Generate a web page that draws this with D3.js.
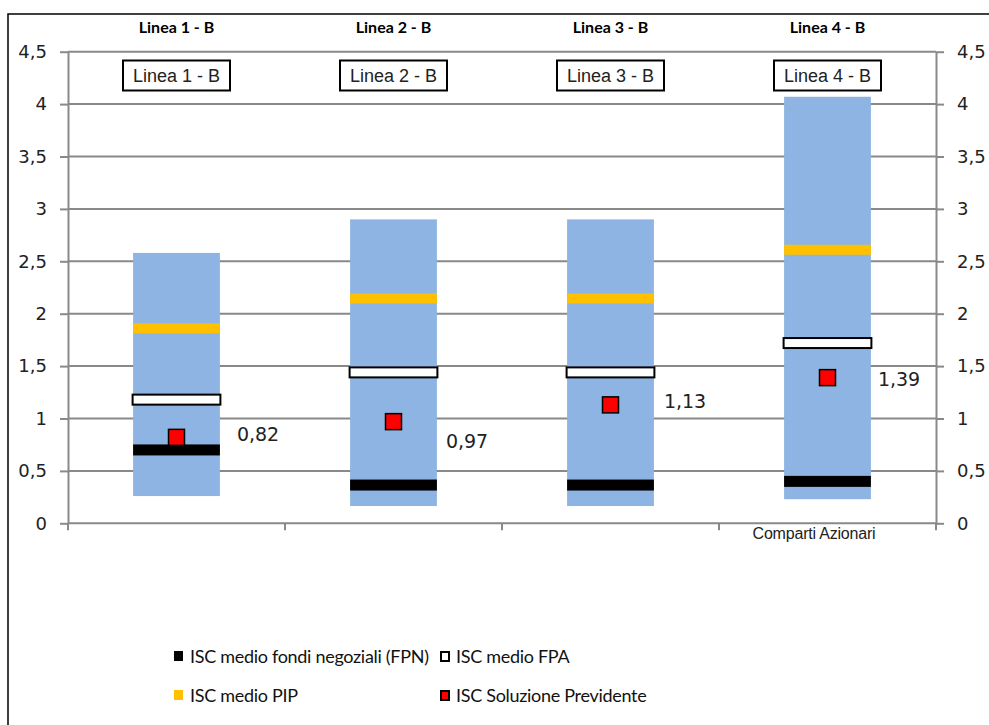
<!DOCTYPE html>
<html>
<head>
<meta charset="utf-8">
<script src="https://cdn.jsdelivr.net/npm/d3@7"></script>
<style>
  body { margin: 0; background: #fff; }
  svg { display: block; }
</style>
</head>
<body>
<div class="graph"></div>
<script>
// values
var categories = ["Linea 1 - B", "Linea 2 - B", "Linea 3 - B", "Linea 4 - B"];
var rangeMin = [0.26, 0.165, 0.165, 0.23];
var rangeMax = [2.58, 2.90, 2.90, 4.07];
var iscPip = [1.86, 2.145, 2.145, 2.61];
var iscFpa = [1.18, 1.44, 1.44, 1.72];
var iscFpn = [0.70, 0.365, 0.365, 0.40];
var iscPrevidente = [0.82, 0.97, 1.13, 1.39];
var yTicks = [0, 0.5, 1, 1.5, 2, 2.5, 3, 3.5, 4, 4.5];

// manual nudges of the value labels, as in the original
var labelDx = [17, 9, 10, 7];
var labelDy = [-3, 20, -4, 2];

var w = 989;
var h = 725;
var grey = "#898989";
var comma = function(d) { return String(d).replace(".", ","); };

var svg = d3.select(".graph").append("svg")
            .attr("width", w)
            .attr("height", h);

// outer frame
svg.append("rect")
  .attr("x", 8).attr("y", 14)
  .attr("width", w + 20).attr("height", h + 20)
  .attr("fill", "none").attr("stroke", "#000").attr("stroke-width", 1.5);

var x = d3.scaleBand().domain(categories).range([68, 936]);
var y = d3.scaleLinear().domain([0, 4.5]).range([523.3, 51.7]);
var barW = x.bandwidth() * 0.4;
var cx = function(i) { return x(categories[i]) + x.bandwidth() / 2; };

// gridlines
svg.append("g").selectAll("line")
  .data(yTicks.slice(1))
  .enter().append("line")
    .attr("x1", 68).attr("x2", 936)
    .attr("y1", function(d) { return y(d); })
    .attr("y2", function(d) { return y(d); })
    .attr("stroke", grey).attr("stroke-width", 2);

// min-max range bars
svg.append("g").selectAll("rect")
  .data(categories)
  .enter().append("rect")
    .attr("x", function(d, i) { return cx(i) - barW / 2; })
    .attr("y", function(d, i) { return y(rangeMax[i]); })
    .attr("width", barW)
    .attr("height", function(d, i) { return y(rangeMin[i]) - y(rangeMax[i]); })
    .attr("fill", "#8db4e2");

function band(values, fill, stroke, thick, extra) {
  svg.append("g").selectAll("rect")
    .data(values)
    .enter().append("rect")
      .attr("x", function(d, i) { return cx(i) - barW / 2 - extra; })
      .attr("y", function(d) { return y(d) - thick / 2; })
      .attr("width", barW + extra * 2)
      .attr("height", thick)
      .attr("fill", fill)
      .attr("stroke", stroke)
      .attr("stroke-width", stroke == "none" ? 0 : 2);
}
band(iscPip, "#ffc000", "none", 10, 0);
band(iscFpa, "#fff", "#000", 10, 0.5);
band(iscFpn, "#000", "none", 11, 0);

// red markers
var m = 16;
svg.append("g").selectAll("rect")
  .data(iscPrevidente)
  .enter().append("rect")
    .attr("x", function(d, i) { return cx(i) - m / 2; })
    .attr("y", function(d) { return y(d) - m / 2; })
    .attr("width", m).attr("height", m)
    .attr("fill", "#ff0000").attr("stroke", "#000").attr("stroke-width", 1.5);

svg.append("g").selectAll("text")
  .data(iscPrevidente)
  .enter().append("text")
    .attr("x", function(d, i) { return cx(i) + barW / 2 + labelDx[i]; })
    .attr("y", function(d, i) { return y(d) + labelDy[i]; })
    .attr("dy", "0.35em")
    .attr("font-family", "DejaVu Sans, sans-serif")
    .attr("font-size", "19px")
    .attr("fill", "#222")
    .text(function(d) { return d.toFixed(2).replace(".", ","); });

// axes
function styleAxis(g) {
  g.select(".domain").attr("stroke", grey).attr("stroke-width", 2);
  g.selectAll(".tick line").attr("stroke", grey).attr("stroke-width", 2);
  g.selectAll(".tick text")
    .attr("font-family", "DejaVu Sans, sans-serif")
    .attr("font-size", "18px")
    .attr("fill", "#222");
}
svg.append("g")
  .attr("transform", "translate(68,0)")
  .call(d3.axisLeft(y).tickValues(yTicks).tickFormat(comma).tickSize(8).tickPadding(13).tickSizeOuter(0))
  .call(styleAxis);
svg.append("g")
  .attr("transform", "translate(936,0)")
  .call(d3.axisRight(y).tickValues(yTicks).tickFormat(comma).tickSize(8).tickPadding(13).tickSizeOuter(0))
  .call(styleAxis);

// category axis: line plus ticks on the band edges
var edges = categories.map(function(d) { return x(d); }).concat([x.range()[1]]);
svg.append("line")
  .attr("x1", 68).attr("x2", 936)
  .attr("y1", y(0)).attr("y2", y(0))
  .attr("stroke", grey).attr("stroke-width", 2);
svg.append("g").selectAll("line")
  .data(edges)
  .enter().append("line")
    .attr("x1", function(d) { return d; }).attr("x2", function(d) { return d; })
    .attr("y1", y(0)).attr("y2", y(0) + 7)
    .attr("stroke", grey).attr("stroke-width", 2);

svg.append("text")
  .attr("x", 814).attr("y", 539)
  .attr("text-anchor", "middle")
  .attr("font-family", "Liberation Sans, Arial, sans-serif")
  .attr("font-size", "16px")
  .attr("letter-spacing", "-0.2px")
  .attr("fill", "#222")
  .text("Comparti Azionari");

// bold titles above the plot
svg.append("g").selectAll("text")
  .data(categories)
  .enter().append("text")
    .attr("x", function(d, i) { return cx(i); })
    .attr("y", 33)
    .attr("text-anchor", "middle")
    .attr("font-family", "Lato, sans-serif")
    .attr("font-weight", "bold")
    .attr("font-size", "16px")
    .text(function(d) { return d; });

// boxed labels
var boxes = svg.append("g").selectAll("g")
  .data(categories)
  .enter().append("g")
    .attr("transform", function(d, i) { return "translate(" + cx(i) + ",75.5)"; });
boxes.append("rect")
  .attr("x", -53.5).attr("y", -15)
  .attr("width", 107).attr("height", 30)
  .attr("fill", "#fff").attr("stroke", "#000").attr("stroke-width", 2);
boxes.append("text")
  .attr("text-anchor", "middle")
  .attr("dy", "0.35em")
  .attr("font-family", "Liberation Sans, Arial, sans-serif")
  .attr("font-size", "18px")
  .attr("fill", "#222")
  .text(function(d) { return d; });

// legend
var legendItems = [
  { name: "ISC medio fondi negoziali (FPN)", fill: "#000", stroke: "none", x: 174, y: 663 },
  { name: "ISC medio FPA", fill: "#fff", stroke: "#000", x: 440, y: 663 },
  { name: "ISC medio PIP", fill: "#ffc000", stroke: "none", x: 174, y: 702 },
  { name: "ISC Soluzione Previdente", fill: "#ff0000", stroke: "#000", x: 440, y: 702 }
];
var leg = svg.append("g").selectAll("g")
  .data(legendItems)
  .enter().append("g")
    .attr("transform", function(d) { return "translate(" + d.x + "," + d.y + ")"; });
leg.append("rect")
  .attr("x", function(d) { return d.stroke == "none" ? 0 : 1; })
  .attr("y", function(d) { return d.stroke == "none" ? -12 : -11; })
  .attr("width", function(d) { return d.stroke == "none" ? 9 : 8; })
  .attr("height", function(d) { return d.stroke == "none" ? 10 : 9; })
  .attr("fill", function(d) { return d.fill; })
  .attr("stroke", function(d) { return d.stroke; })
  .attr("stroke-width", 2);
leg.append("text")
  .attr("x", 16)
  .attr("font-family", "Lato, sans-serif")
  .attr("font-size", "18px")
  .attr("letter-spacing", "-0.3px")
  .attr("fill", "#111")
  .text(function(d) { return d.name; });
</script>
</body>
</html>
